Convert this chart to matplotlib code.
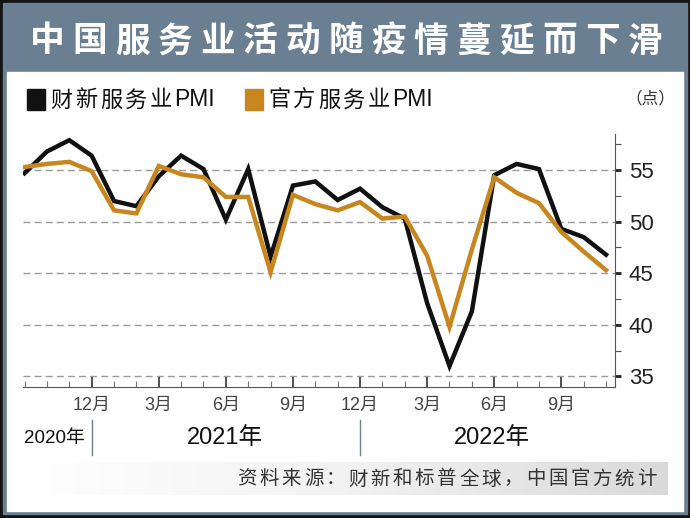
import matplotlib
matplotlib.use("Agg")
import matplotlib.pyplot as plt
import numpy as np
from matplotlib.patches import Rectangle
from matplotlib.colors import LinearSegmentedColormap

# monthly values, Sep 2020 .. Nov 2022
months = ["2020-09", "2020-10", "2020-11", "2020-12",
          "2021-01", "2021-02", "2021-03", "2021-04", "2021-05", "2021-06",
          "2021-07", "2021-08", "2021-09", "2021-10", "2021-11", "2021-12",
          "2022-01", "2022-02", "2022-03", "2022-04", "2022-05", "2022-06",
          "2022-07", "2022-08", "2022-09", "2022-10", "2022-11"]
caixin = [54.7, 56.8, 57.9, 56.4, 52.0, 51.5, 54.4, 56.4, 55.1, 50.2,
          55.1, 46.6, 53.5, 53.9, 52.1, 53.2, 51.4, 50.3, 42.1, 36.0,
          41.3, 54.5, 55.6, 55.1, 49.3, 48.5, 46.8]
official = [55.3, 55.6, 55.8, 54.9, 51.1, 50.8, 55.4, 54.6, 54.3, 52.4,
            52.4, 45.1, 52.6, 51.7, 51.1, 51.9, 50.3, 50.5, 46.7, 39.8,
            47.3, 54.3, 52.8, 51.8, 49.0, 47.1, 45.3]
month_ticks = [3, 6, 9, 12, 15, 18, 21, 24]
month_labels = ["12月", "3月", "6月", "9月", "12月", "3月", "6月", "9月"]
y_ticks = [35, 40, 45, 50, 55]
years = ["2020年", "2021年", "2022年"]

title = "中国服务业活动随疫情蔓延而下滑"
legend_names = ["财新服务业", "官方服务业"]
source = "资料来源：财新和标普全球，中国官方统计"

BLACK = "#111111"
ORANGE = "#c8861f"
SLATE = "#6a7f91"

CJK = ["Liberation Sans", "Noto Sans CJK SC", "DejaVu Sans"]
plt.rcParams["font.family"] = CJK

W, H = 690, 518
fig = plt.figure(figsize=(W / 100, H / 100), dpi=100)

# background in pixel coords
bg = fig.add_axes([0, 0, 1, 1])
bg.set_xlim(0, W)
bg.set_ylim(H, 0)
bg.axis("off")
bg.add_patch(Rectangle((0, 0), W, H, color="#141414"))
bg.add_patch(Rectangle((3, 3), W - 6, H - 7, color=SLATE))
bg.add_patch(Rectangle((7, 72), 676, 439, color="white"))

grad = LinearSegmentedColormap.from_list("g", ["#ffffff", "#f2f2f2", "#d9d9d9"])
bg.imshow(np.linspace(0, 1, 256)[None, :], cmap=grad, aspect="auto",
          extent=[24, 668, 495, 462], zorder=1)


def spaced(s, x, y, pitch, **kw):
    for i, ch in enumerate(s):
        bg.text(x + i * pitch, y, ch, ha="center", va="center", **kw)


spaced(title, 47, 41, 42.7, color="white", fontsize=25,
       family="Noto Sans CJK SC", weight="heavy")

# legend
for (x0, col, name) in [(27, BLACK, legend_names[0]), (245, ORANGE, legend_names[1])]:
    bg.add_patch(Rectangle((x0, 89), 18, 21, color=col, zorder=3))
    spaced(name, x0 + 34, 100, 25, color="#111111", fontsize=16,
           family="Noto Sans CJK SC")
    bg.text(x0 + 147, 100, "PMI", ha="left", va="center", fontsize=16.5,
            color="#111111", family="Liberation Sans")
bg.text(650, 99, "（点）", ha="center", va="center", fontsize=12,
        color="#333333", family="Noto Sans CJK SC")

# year row
bg.plot([91.6, 91.6], [420, 455], color="#6f7f8c", lw=1)
bg.plot([360, 360], [420, 455], color="#6f7f8c", lw=1)
bg.text(54, 438, years[0], ha="center", va="center", fontsize=13.5, color="#111111")
bg.text(225, 438, years[1], ha="center", va="center", fontsize=17, color="#111111")
bg.text(492, 438, years[2], ha="center", va="center", fontsize=17, color="#111111")

spaced(source, 247, 479, 22.2, color="#333333", fontsize=14,
       family="Noto Sans CJK SC", weight="light")

# chart
ax = fig.add_axes([23 / W, (H - 386.7) / H, 592 / W, 252.7 / H])
ax.set_facecolor("none")
x = np.arange(len(months))
for v in y_ticks:
    ax.axhline(v, color="#9a9a9a", lw=1, ls=(0, (5, 3)), zorder=1)
ax.plot(x, caixin, color=BLACK, lw=3.2, solid_joinstyle="miter", zorder=3)
ax.plot(x, official, color=ORANGE, lw=3.2, solid_joinstyle="miter", zorder=4)

ax.set_xlim(-0.07, 26.4)
ax.set_ylim(34.0, 58.5)
for s in ["left", "top"]:
    ax.spines[s].set_visible(False)
ax.spines["bottom"].set_color("#555555")
ax.spines["right"].set_color("#555555")

ax.set_xticks(month_ticks)
ax.set_xticklabels(month_labels, fontsize=13, color="#444444")
ax.set_xticks(x, minor=True)
ax.tick_params(axis="x", which="major", direction="in", length=7, width=1.2,
               color="#333333", pad=7)
ax.tick_params(axis="x", which="minor", direction="in", length=4, width=0.8,
               color="#777777")

ax.yaxis.tick_right()
ax.set_yticks(y_ticks)
ax.set_yticks(np.arange(37.5, 58, 5), minor=True)
ax.tick_params(axis="y", which="major", direction="out", length=4, width=2,
               color="#222222", labelsize=16, labelcolor="#222222", pad=6)
ax.tick_params(axis="y", which="minor", direction="out", length=4, width=0.8,
               color="#555555")

fig.savefig("out.png", dpi=100)
